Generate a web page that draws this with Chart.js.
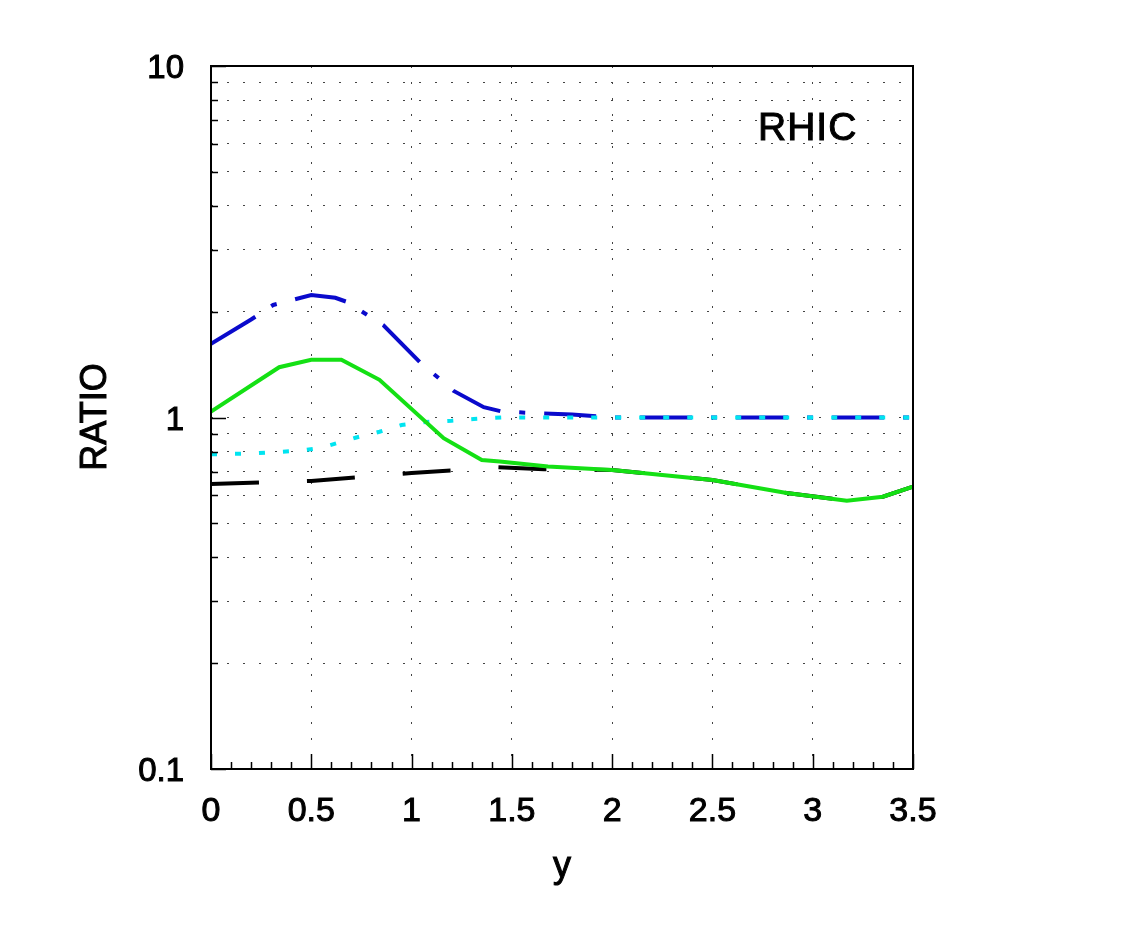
<!DOCTYPE html>
<html>
<head>
<meta charset="utf-8">
<script src="https://cdn.jsdelivr.net/npm/chart.js@4.4.1/dist/chart.umd.min.js"></script>
<style>
  html, body { margin: 0; padding: 0; background: #fff; }
  canvas { display: block; }
</style>
</head>
<body>
<canvas id="ratioChart" width="1125" height="944"></canvas>
<script>
// values
const xTicks = [0, 0.5, 1, 1.5, 2, 2.5, 3, 3.5];
const yTickLabels = ['0.1', '1', '10'];
const yTicks = [0.1, 0.2, 0.3, 0.4, 0.5, 0.6, 0.7, 0.8, 0.9, 1, 2, 3, 4, 5, 6, 7, 8, 9, 10];

const blueX = [0, 0.2, 0.31, 0.5, 0.62, 0.68, 0.76, 0.86, 1.04, 1.21, 1.36, 1.45, 1.6, 1.8, 2.0, 2.5, 3.0, 3.5];
const blueY = [1.62, 1.90, 2.09, 2.23, 2.19, 2.13, 1.99, 1.83, 1.44, 1.19, 1.07, 1.04, 1.03, 1.02, 1.0, 1.0, 1.0, 1.0];

const greenX = [0, 0.34, 0.5, 0.65, 0.84, 1.16, 1.35, 1.44, 1.68, 2.0, 2.5, 2.87, 3.17, 3.35, 3.5];
const greenY = [1.04, 1.39, 1.46, 1.46, 1.28, 0.873, 0.757, 0.75, 0.725, 0.709, 0.664, 0.61, 0.58, 0.595, 0.636];

const cyanX = [0, 0.2, 0.45, 0.55, 0.72, 0.84, 0.95, 1.07, 1.2, 1.31, 1.45, 2.0, 3.5];
const cyanY = [0.786, 0.79, 0.805, 0.82, 0.876, 0.911, 0.952, 0.971, 0.979, 0.99, 1.0, 1.0, 1.0];

const blackX = [0, 0.5, 1.0, 1.43, 1.66, 2.0, 2.5, 2.87, 3.17, 3.35, 3.5];
const blackY = [0.647, 0.66, 0.695, 0.722, 0.713, 0.709, 0.664, 0.61, 0.58, 0.595, 0.636];

function pts(xs, ys) {
  return xs.map((x, i) => ({ x: x, y: ys[i] }));
}

const FONT = '"Liberation Sans", Arial, Helvetica, sans-serif';

// draws text a little heavier, like the original
function heavyText(ctx, txt, x, y) {
  ctx.fillText(txt, x, y);
  ctx.strokeText(txt, x, y);
}

// frame, inward tick marks and the free text
const framePlugin = {
  id: 'frame',
  afterDraw(chart) {
    const ctx = chart.ctx;
    const a = chart.chartArea;
    const xs = chart.scales.x;
    const ys = chart.scales.y;
    ctx.save();
    ctx.strokeStyle = '#000';
    ctx.lineWidth = 1.5;
    ctx.beginPath();
    // x ticks every 0.1, longer at 0.5
    for (let i = 0; i <= 35; i++) {
      const px = Math.round(xs.getPixelForValue(i / 10)) + 0.5;
      const len = (i % 5 === 0) ? 15 : 7;
      ctx.moveTo(px, a.bottom);
      ctx.lineTo(px, a.bottom - len);
    }
    // y ticks on log positions
    yTicks.forEach(v => {
      const py = Math.round(ys.getPixelForValue(v)) + 0.5;
      const major = Math.abs(Math.log10(v) - Math.round(Math.log10(v))) < 1e-6;
      ctx.moveTo(a.left, py);
      ctx.lineTo(a.left + (major ? 15 : 7), py);
    });
    ctx.stroke();

    ctx.lineWidth = 2;
    ctx.strokeRect(a.left, a.top, a.right - a.left, a.bottom - a.top);

    ctx.fillStyle = '#000';
    ctx.lineWidth = 1;
    ctx.font = '36px ' + FONT;
    ctx.textAlign = 'center';
    ctx.textBaseline = 'alphabetic';
    heavyText(ctx, 'y', 562, 877);

    ctx.save();
    ctx.translate(106, 417);
    ctx.rotate(-Math.PI / 2);
    heavyText(ctx, 'RATIO', 0, 0);
    ctx.restore();

    ctx.textAlign = 'left';
    ctx.font = '39px ' + FONT;
    ctx.letterSpacing = '1px';
    heavyText(ctx, 'RHIC', 758, 140);
    ctx.restore();
  }
};

const ctx = document.getElementById('ratioChart').getContext('2d');
const chart = new Chart(ctx, {
  type: 'line',
  data: {
    datasets: [
      {
        label: 'green',
        data: pts(greenX, greenY),
        borderColor: '#14e014',
        borderWidth: 4,
        order: 0
      },
      {
        label: 'cyan',
        data: pts(cyanX, cyanY),
        borderColor: '#00e4f0',
        borderWidth: 4,
        borderDash: [6, 18],
        order: 1
      },
      {
        label: 'blue',
        data: pts(blueX, blueY),
        borderColor: '#0a0acc',
        borderWidth: 4,
        borderDash: [52, 19, 6, 19],
        order: 2
      },
      {
        label: 'black',
        data: pts(blackX, blackY),
        borderColor: '#000',
        borderWidth: 4,
        borderDash: [48, 48],
        order: 3
      }
    ]
  },
  options: {
    responsive: false,
    animation: false,
    devicePixelRatio: 1,
    layout: { padding: { top: 66, right: 212, bottom: 0, left: 0 } },
    elements: {
      point: { radius: 0 },
      line: { tension: 0, fill: false, borderCapStyle: 'butt' }
    },
    plugins: {
      legend: { display: false },
      tooltip: { enabled: false }
    },
    scales: {
      x: {
        type: 'linear',
        min: 0,
        max: 3.5,
        afterFit(scale) { scale.height = 175; },
        afterBuildTicks(scale) { scale.ticks = xTicks.map(v => ({ value: v })); },
        grid: { color: '#444', lineWidth: 1, drawTicks: false },
        border: { display: false, dash: [2, 14] },
        ticks: {
          color: '#000',
          textStrokeColor: '#000',
          textStrokeWidth: 1,
          padding: 22,
          maxRotation: 0,
          autoSkip: false,
          font: { family: FONT, size: 34 },
          callback: v => String(v)
        }
      },
      y: {
        type: 'logarithmic',
        min: 0.1,
        max: 10,
        afterFit(scale) { scale.width = 211; },
        afterBuildTicks(scale) { scale.ticks = yTicks.map(v => ({ value: v })); },
        grid: { color: '#444', lineWidth: 1, drawTicks: false },
        border: { display: false, dash: [2, 14] },
        ticks: {
          color: '#000',
          textStrokeColor: '#000',
          textStrokeWidth: 1,
          padding: 27,
          labelOffset: 3,
          autoSkip: false,
          font: { family: FONT, size: 33 },
          callback: function (v) {
            const i = [0.1, 1, 10].indexOf(v);
            return i >= 0 ? yTickLabels[i] : '';
          }
        }
      }
    }
  },
  plugins: [framePlugin]
});
</script>
</body>
</html>
